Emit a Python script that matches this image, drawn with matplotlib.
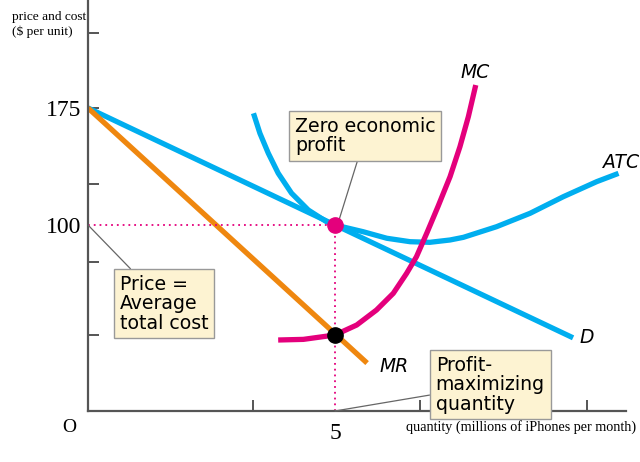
import matplotlib.pyplot as plt

# values (quantity in millions, price in $)
d_q = [0, 9.82]
d_p = [175, 27.7]

mr_q = [0, 5.65]
mr_p = [175, 11.5]

atc_q = [3.35, 3.48, 3.65, 3.85, 4.12, 4.46, 4.83, 5.0, 5.57, 6.05, 6.52, 6.92,
         7.33, 7.6, 8.27, 8.95, 9.62, 10.3, 10.74]
atc_p = [171.6, 158.8, 146.0, 133.2, 120.4, 109.6, 102.1, 100.0, 95.7, 91.5, 89.3, 88.9,
         90.4, 92.1, 98.9, 107.5, 118.1, 127.8, 133.1]

mc_q = [3.85, 4.36, 5.0, 5.44, 5.84, 6.18, 6.45, 6.65, 6.86, 7.09, 7.33, 7.53, 7.7, 7.85]
mc_p = [26.3, 26.7, 29.5, 35.9, 45.5, 56.2, 69.0, 79.7, 94.9, 112.2, 131.0, 150.2, 169.4, 189.7]

q_star = 5
p_star = 100
mc_star = 29.5

blue = '#00aeef'
orange = '#ef870f'
pink = '#e4007c'
box_fc = '#fdf3d2'
serif = 'Liberation Serif'
sans = 'DejaVu Sans'

fig = plt.figure(figsize=(6.4, 4.62), dpi=100)
ax = fig.add_axes([0.1375, 0.1104, 0.978 - 0.1375, 0.8896])
ymin, ymax = -19.2, 244.2
ax.set_xlim(0, 10.89)
ax.set_ylim(ymin, ymax)

for s in ['top', 'right']:
    ax.spines[s].set_visible(False)
for s in ['left', 'bottom']:
    ax.spines[s].set_color('#555555')
    ax.spines[s].set_linewidth(1.6)

kw = dict(lw=3.8, solid_capstyle='butt', solid_joinstyle='round')
ax.plot(d_q, d_p, color=blue, **kw)
ax.plot(atc_q, atc_p, color=blue, **kw)
ax.plot(mr_q, mr_p, color=orange, **kw)
ax.plot(mc_q, mc_p, color=pink, **kw)

# dotted guide lines
ax.plot([0, q_star], [p_star, p_star], color=pink, lw=1.3, ls=(0, (1, 2.2)))
ax.plot([q_star, q_star], [ymin, p_star], color=pink, lw=1.3, ls=(0, (1, 2.2)))

ax.plot(q_star, p_star, 'o', color=pink, ms=11, zorder=5)
ax.plot(q_star, mc_star, 'o', color='black', ms=11, zorder=5)

# ticks
yt = [29.5, 76.3, 100, 126.3, 175, 223]
ax.set_yticks(yt, ['', '', '100', '', '175', ''], fontfamily=serif, fontsize=17)
ax.yaxis.get_major_ticks()[2].tick1line.set_visible(False)
xt = [3.34, 5, 6.72, 10.1]
ax.set_xticks(xt, ['', '5', '', ''], fontfamily=serif, fontsize=17)
ax.xaxis.get_major_ticks()[1].tick1line.set_visible(False)
ax.tick_params(direction='in', length=8, width=1.4, color='#555555')
ax.tick_params(axis='y', pad=5)
ax.tick_params(axis='x', pad=9)

fig.text(69 / 640, 1 - 427 / 462, 'O', fontfamily=serif, fontsize=14,
         ha='center', va='center')
fig.text(12 / 640, 1 - 11 / 462, 'price and cost\n($ per unit)', fontfamily=serif,
         fontsize=9.6, ha='left', va='top', linespacing=1.3)
fig.text(636 / 640, 1 - 427 / 462, 'quantity (millions of iPhones per month)',
         fontfamily=serif, fontsize=10.2, ha='right', va='center')

# curve labels
lab = dict(fontfamily=sans, fontsize=13.5, style='italic', ha='center', va='center')
ax.text(7.83, 198, 'MC', **lab)
ax.text(10.8, 140, 'ATC', **lab)
ax.text(10.1, 27.6, 'D', **lab)
ax.text(6.2, 9.0, 'MR', **lab)

# call-out boxes
box = dict(boxstyle='square,pad=0.3', fc=box_fc, ec='#999999', lw=1)
line = dict(arrowstyle='-', color='#666666', lw=0.9, shrinkA=0, shrinkB=0)
txt = dict(fontfamily=sans, fontsize=13.6, ha='left', va='top', linespacing=1.02,
           bbox=box, arrowprops=line)
ax.annotate('Zero economic\nprofit', xy=(q_star + 0.08, p_star + 3), xytext=(4.19, 169.5),
            **txt)
ax.annotate('Price =\nAverage\ntotal cost', xy=(0, p_star), xytext=(0.65, 68), **txt)
ax.annotate('Profit-\nmaximizing\nquantity', xy=(q_star, ymin), xytext=(7.04, 16), **txt)

fig.savefig('out.png', dpi=100)
